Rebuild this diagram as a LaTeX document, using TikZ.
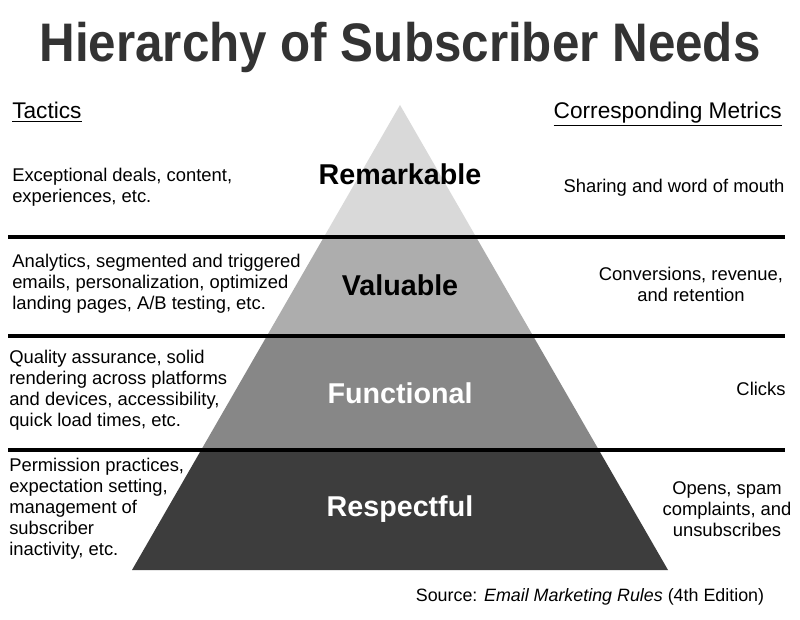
\documentclass[tikz,border=0pt]{standalone}
\usepackage{fontspec}
\setmainfont{Liberation Sans}
\begin{document}
\begin{tikzpicture}[x=0.75pt,y=-0.75pt,
  txt/.style={font=\fontsize{13.8}{15.8}\selectfont,align=left,anchor=west,inner sep=0},
  rtxt/.style={font=\fontsize{13.8}{15.8}\selectfont,align=center,inner sep=0},
  lvl/.style={font=\bfseries\fontsize{21.5}{24}\selectfont,inner sep=0},
  sep/.style={line width=2.5pt}]
\useasboundingbox (0,0) rectangle (800,620);
\fill[white] (0,0) rectangle (800,620);
\begin{scope}
\clip (400,105) -- (668,570) -- (132,570) -- cycle;
\fill[black!15] (0,100) rectangle (800,237);
\fill[black!32] (0,237) rectangle (800,336);
\fill[black!47] (0,336) rectangle (800,450);
\fill[black!76] (0,450) rectangle (800,575);
\end{scope}
\draw[sep] (8,237) -- (785,237);
\draw[sep] (8,336) -- (785,336);
\draw[sep] (8,450) -- (785,450);
\node[font=\bfseries\fontsize{37}{40}\selectfont,text=black!80,yscale=1.1] (title) at (400,47) {Hierarchy of Subscriber Needs};
\node[font=\fontsize{17}{20}\selectfont,anchor=west,inner sep=0] (tl) at (12,112) {\underline{Tactics}};
\node[font=\fontsize{17}{20}\selectfont,anchor=east,inner sep=0] (tr) at (782,114) {\underline{Corresponding Metrics}};
\node[lvl] (l1) at (400,174) {Remarkable};
\node[lvl] (l2) at (400,285) {Valuable};
\node[lvl,text=white] (l3) at (400,393) {Functional};
\node[lvl,text=white] (l4) at (400,509) {Respectful};
\node[txt] (t1) at (12,187) {Exceptional deals, content,\\experiences, etc.};
\node[txt] (t2) at (12,284) {Analytics, segmented and triggered\\emails, personalization, optimized\\landing pages, A/B testing, etc.};
\node[txt] (t3) at (9,390) {Quality assurance, solid\\rendering across platforms\\and devices, accessibility,\\quick load times, etc.};
\node[txt] (t4) at (9,509) {Permission practices,\\expectation setting,\\management of\\subscriber\\inactivity, etc.};
\node[rtxt] (m1) at (674,188) {Sharing and word of mouth};
\node[rtxt] (m2) at (691,284) {Conversions, revenue,\\and retention};
\node[rtxt] (m3) at (761,389) {Clicks};
\node[rtxt] (m4) at (727,509) {Opens, spam\\complaints, and\\unsubscribes};
\node[font=\fontsize{13.4}{16}\selectfont,inner sep=0] (src) at (590,597) {Source: \textit{Email Marketing Rules} (4th Edition)};
\end{tikzpicture}
\end{document}
